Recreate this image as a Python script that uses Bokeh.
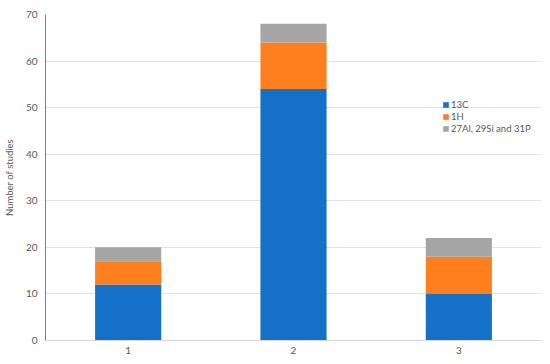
from bokeh.plotting import figure
from bokeh.models import ColumnDataSource, Legend, LegendItem
from bokeh.embed import file_html
from bokeh.resources import INLINE

groups = ["1", "2", "3"]
series = ["13C", "1H", "27Al, 29Si and 31P"]
c13 = [12, 54, 10]
h1 = [5, 10, 8]
other = [3, 4, 4]
colors = ["#1570C8", "#FF7F1F", "#A5A5A5"]
yticks = [0, 10, 20, 30, 40, 50, 60, 70]

src = ColumnDataSource(data=dict(x=groups, **{series[0]: c13, series[1]: h1, series[2]: other}))

FONT = "Lato"
p = figure(width=542, height=362, x_range=groups, y_range=(0, 70),
           output_backend="svg", toolbar_location=None,
           min_border_left=43, min_border_right=1, min_border_top=14, min_border_bottom=22)

r = p.vbar_stack(series, x="x", width=0.4, color=colors, source=src, line_width=0)

p.outline_line_color = None
p.xgrid.grid_line_color = None
p.ygrid.grid_line_color = "#E3E3E3"
p.ygrid.ticker = yticks
p.yaxis.ticker = yticks

for ax in (p.xaxis, p.yaxis):
    ax.major_tick_line_color = None
    ax.minor_tick_line_color = None
    ax.major_tick_out = 0
    ax.major_tick_in = 0
    ax.minor_tick_out = 0
    ax.major_label_text_font = FONT
    ax.major_label_text_font_size = "10px"
    ax.major_label_text_color = "#595959"
p.xaxis.axis_line_color = "#D9D9D9"
p.yaxis.axis_line_color = "#7F7F7F"
p.xaxis.major_label_standoff = 6
p.yaxis.major_label_standoff = 8
p.yaxis.axis_label = "Number of studies"
p.yaxis.axis_label_text_font = FONT
p.yaxis.axis_label_text_font_style = "normal"
p.yaxis.axis_label_text_font_size = "9.5px"
p.yaxis.axis_label_text_color = "#595959"
p.yaxis.axis_label_standoff = 8

items = [LegendItem(label=s, renderers=[rr]) for s, rr in zip(series, r)]
legend = Legend(items=items, location=(397, 206), orientation="vertical", margin=0,
                glyph_width=7, glyph_height=7, label_height=12, spacing=0, padding=0,
                label_text_font=FONT, label_text_font_size="9.5px", label_text_color="#595959",
                label_standoff=2, border_line_color=None, background_fill_alpha=0)
p.add_layout(legend, "center")

open("out.html", "w").write(file_html(p, INLINE))
